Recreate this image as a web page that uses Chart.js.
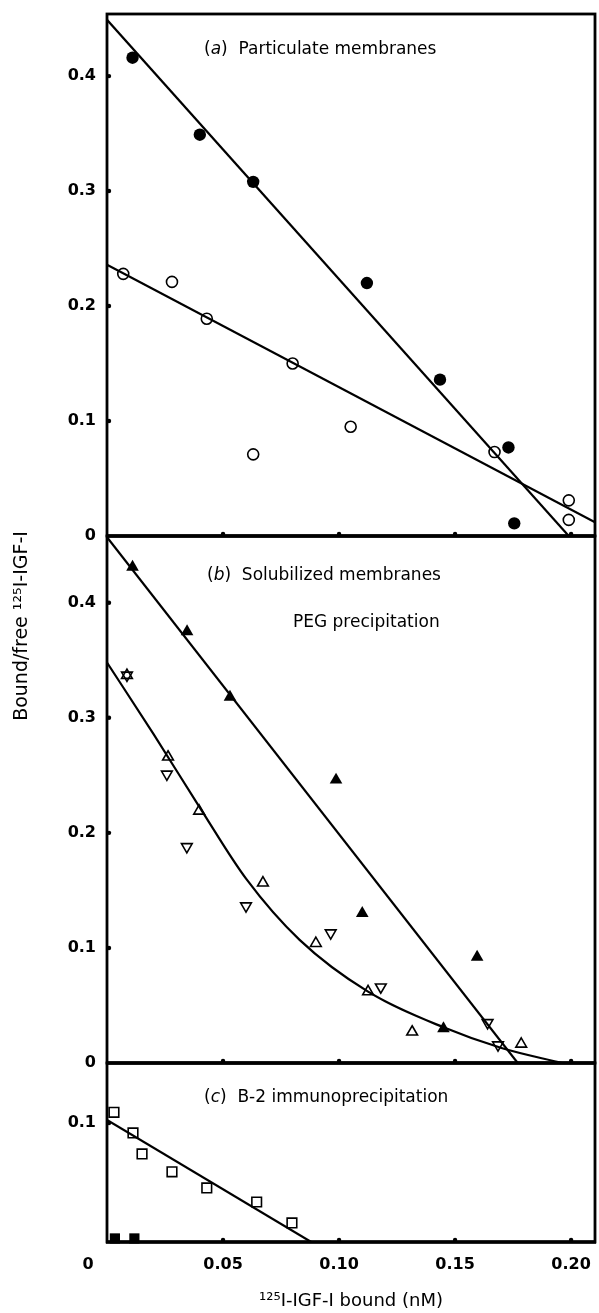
<!DOCTYPE html>
<html>
<head>
<meta charset="utf-8">
<title>Scatchard plots of 125I-IGF-I binding</title>
<script src="https://cdn.jsdelivr.net/npm/chart.js@4.4.1/dist/chart.umd.min.js"></script>
<style>
  body { margin: 0; background: #fff; }
  #wrap { position: relative; width: 599px; height: 1313px; }
  canvas { position: absolute; left: 0; }
</style>
</head>
<body>
<div id="wrap">
  <canvas id="chartB" width="599" height="555" style="top:520px"></canvas>
  <canvas id="chartC" width="599" height="263" style="top:1050px"></canvas>
  <canvas id="chartA" width="599" height="545" style="top:0px"></canvas>
</div>
<script>
// shared x axis (125I-IGF-I bound, nM)
const xMin = 0, xMax = 0.2103;
const xTicks = [0, 0.05, 0.10, 0.15, 0.20];
const yTicks = [0, 0.1, 0.2, 0.3, 0.4];

// (a) Particulate membranes
const aFilledX = [0.011, 0.040, 0.063, 0.112, 0.1435, 0.173, 0.1755];
const aFilledY = [0.416, 0.349, 0.308, 0.220, 0.136, 0.077, 0.011];
const aOpenX = [0.007, 0.028, 0.043, 0.080, 0.063, 0.105, 0.167, 0.199, 0.199];
const aOpenY = [0.228, 0.221, 0.189, 0.150, 0.071, 0.095, 0.073, 0.031, 0.014];
const aFilledFitX = [0, 0.199];
const aFilledFitY = [0.449, 0];
const aOpenFitX = [0, 0.2103];
const aOpenFitY = [0.236, 0.012];

// (b) Solubilized membranes, PEG precipitation
const bFilledX = [0.011, 0.0345, 0.053, 0.0987, 0.110, 0.1595, 0.145];
const bFilledY = [0.431, 0.375, 0.318, 0.246, 0.130, 0.092, 0.030];
const bUpX = [0.0086, 0.0263, 0.0397, 0.0672, 0.090, 0.1125, 0.1315, 0.1785];
const bUpY = [0.337, 0.266, 0.219, 0.1565, 0.104, 0.062, 0.027, 0.0165];
const bDownX = [0.0086, 0.0258, 0.0344, 0.0599, 0.0964, 0.118, 0.164, 0.1685];
const bDownY = [0.337, 0.251, 0.188, 0.1365, 0.113, 0.066, 0.035, 0.0157];
const bFilledFitX = [0, 0.177];
const bFilledFitY = [0.457, 0];
const bCurveX = [0, 0.02, 0.04, 0.06, 0.083, 0.1125, 0.145, 0.17, 0.196];
const bCurveY = [0.348, 0.286, 0.222, 0.160, 0.107, 0.062, 0.031, 0.013, 0];

// (c) B-2 immunoprecipitation
const cOpenX = [0.003, 0.0112, 0.0151, 0.028, 0.043, 0.0645, 0.0797];
const cOpenY = [0.109, 0.0916, 0.074, 0.059, 0.0454, 0.0336, 0.016];
const cFilledX = [0.0034, 0.0118];
const cFilledY = [0.003, 0.003];
const cFitX = [0, 0.088];
const cFitY = [0.1025, 0];

Chart.defaults.font.family = "'DejaVu Sans', sans-serif";
Chart.defaults.color = '#000';

const pts = (xs, ys) => xs.map((x, i) => ({ x: x, y: ys[i] }));

function markers(xs, ys, style) {
    return {
        data: pts(xs, ys),
        showLine: false,
        clip: false,
        pointStyle: style.shape,
        pointRotation: style.rotation || 0,
        pointRadius: style.r,
        pointBorderWidth: style.filled ? 0 : 1.6,
        pointBorderColor: '#000',
        pointBackgroundColor: style.filled ? '#000' : 'rgba(0,0,0,0)'
    };
}

function fitLine(xs, ys, curved) {
    return {
        data: pts(xs, ys),
        showLine: true,
        pointRadius: 0,
        borderColor: '#000',
        borderWidth: 2.2,
        cubicInterpolationMode: curved ? 'monotone' : 'default'
    };
}

// box round the plot area plus the little dot ticks
const framePlugin = {
    id: 'frame',
    afterDraw(chart, args, opts) {
        const { ctx, chartArea: a, scales } = chart;
        ctx.save();
        ctx.strokeStyle = '#000';
        ctx.fillStyle = '#000';
        ctx.lineWidth = 2.8;
        ctx.strokeRect(a.left, a.top, a.right - a.left, a.bottom - a.top);
        ctx.lineWidth = 3.4;
        ctx.beginPath();
        ctx.moveTo(a.left - 1, a.bottom);
        ctx.lineTo(a.right + 1, a.bottom);
        ctx.stroke();
        xTicks.slice(1).forEach(v => {
            ctx.beginPath();
            ctx.arc(scales.x.getPixelForValue(v), a.bottom - 2, 2.2, 0, 2 * Math.PI);
            ctx.fill();
        });
        opts.yDots.forEach(v => {
            ctx.beginPath();
            ctx.arc(a.left + 2, scales.y.getPixelForValue(v), 2.2, 0, 2 * Math.PI);
            ctx.fill();
        });
        if (opts.zeroLabel) {
            ctx.font = "bold 16px 'DejaVu Sans'";
            ctx.textAlign = 'center';
            ctx.textBaseline = 'middle';
            ctx.fillText('0', scales.x.getPixelForValue(0) - 19, a.bottom + 23);
        }
        ctx.restore();
    }
};

// panel captions and the y title; parts are [text, italic]
const notesPlugin = {
    id: 'notes',
    afterDraw(chart, args, opts) {
        const ctx = chart.ctx;
        opts.items.forEach(item => {
            ctx.save();
            ctx.fillStyle = '#000';
            ctx.textBaseline = 'middle';
            ctx.textAlign = 'left';
            const size = item.size || 17;
            const fontFor = it => (it ? 'italic ' : '') + size + "px 'DejaVu Sans'";
            let total = 0;
            item.parts.forEach(p => { ctx.font = fontFor(p[1]); total += ctx.measureText(p[0]).width; });
            ctx.translate(item.x, item.y);
            if (item.rotate) ctx.rotate(item.rotate);
            let x = item.center ? -total / 2 : 0;
            item.parts.forEach(p => {
                ctx.font = fontFor(p[1]);
                ctx.fillText(p[0], x, 0);
                x += ctx.measureText(p[0]).width;
            });
            ctx.restore();
        });
    }
};

function createPanel(canvasId, cfg) {
    const ctx = document.getElementById(canvasId).getContext('2d');
    return new Chart(ctx, {
        type: 'scatter',
        data: { datasets: cfg.datasets },
        options: {
            responsive: false,
            animation: false,
            events: [],
            layout: { padding: cfg.padding, autoPadding: false },
            scales: {
                x: {
                    type: 'linear',
                    min: xMin,
                    max: xMax,
                    display: cfg.showX,
                    afterBuildTicks: s => { s.ticks = xTicks.map(v => ({ value: v })); },
                    afterFit: s => { s.height = cfg.xHeight || 0; s.paddingLeft = 0; s.paddingRight = 0; },
                    grid: { display: false, drawTicks: false },
                    border: { display: false },
                    ticks: {
                        padding: 13,
                        font: { size: 16, weight: 'bold' },
                        maxRotation: 0,
                        callback: v => v === 0 ? '' : v.toFixed(2)
                    },
                    title: {
                        display: cfg.showX,
                        text: '¹²⁵I-IGF-I bound (nM)',
                        font: { size: 18 },
                        padding: { top: 0, bottom: 1 }
                    }
                },
                y: {
                    type: 'linear',
                    min: 0,
                    max: cfg.yMax,
                    afterBuildTicks: s => { s.ticks = cfg.yTicks.map(v => ({ value: v })); },
                    afterFit: s => { s.width = 107; s.paddingTop = 0; s.paddingBottom = 0; },
                    grid: { display: false, drawTicks: false },
                    border: { display: false },
                    ticks: {
                        padding: 11,
                        font: { size: 16, weight: 'bold' },
                        callback: v => v === 0 ? '0' : v.toFixed(1)
                    }
                }
            },
            plugins: {
                legend: { display: false },
                tooltip: { enabled: false },
                frame: { yDots: cfg.yDots, zeroLabel: cfg.showX },
                notes: { items: cfg.notes }
            }
        },
        plugins: [framePlugin, notesPlugin]
    });
}

// (a)
createPanel('chartA', {
    padding: { top: 14, bottom: 9, left: 0, right: 4 },
    yMax: 0.454,
    yTicks: yTicks,
    yDots: [0.1, 0.2, 0.3, 0.4],
    showX: false,
    datasets: [
        markers(aFilledX, aFilledY, { shape: 'circle', r: 6.2, filled: true }),
        markers(aOpenX, aOpenY, { shape: 'circle', r: 5.5 }),
        fitLine(aFilledFitX, aFilledFitY, false),
        fitLine(aOpenFitX, aOpenFitY, false)
    ],
    notes: [
        { x: 204, y: 50, parts: [['(', false], ['a', true], [')  Particulate membranes', false]] }
    ]
});

// (b)
createPanel('chartB', {
    padding: { top: 16, bottom: 12, left: 0, right: 4 },
    yMax: 0.458,
    yTicks: yTicks,
    yDots: [0.1, 0.2, 0.3, 0.4],
    showX: false,
    datasets: [
        markers(bFilledX, bFilledY, { shape: 'triangle', r: 7.3, filled: true }),
        markers(bUpX, bUpY, { shape: 'triangle', r: 6.2 }),
        markers(bDownX, bDownY, { shape: 'triangle', r: 6.2, rotation: 180 }),
        fitLine(bFilledFitX, bFilledFitY, false),
        fitLine(bCurveX, bCurveY, true)
    ],
    notes: [
        { x: 207, y: 56, parts: [['(', false], ['b', true], [')  Solubilized membranes', false]] },
        { x: 293, y: 103, parts: [['PEG precipitation', false]] },
        { x: 22, y: 106, size: 19, center: true, rotate: -Math.PI / 2, parts: [['Bound/free ¹²⁵I-IGF-I', false]] }
    ]
});

// (c)
createPanel('chartC', {
    padding: { top: 13, bottom: 0, left: 0, right: 4 },
    yMax: 0.1504,
    yTicks: [0.1],
    yDots: [0.1],
    showX: true,
    xHeight: 71,
    datasets: [
        markers(cOpenX, cOpenY, { shape: 'rect', r: 6.8 }),
        markers(cFilledX, cFilledY, { shape: 'rect', r: 7.2, filled: true }),
        fitLine(cFitX, cFitY, false)
    ],
    notes: [
        { x: 204, y: 48, parts: [['(', false], ['c', true], [')  B-2 immunoprecipitation', false]] }
    ]
});
</script>
</body>
</html>
